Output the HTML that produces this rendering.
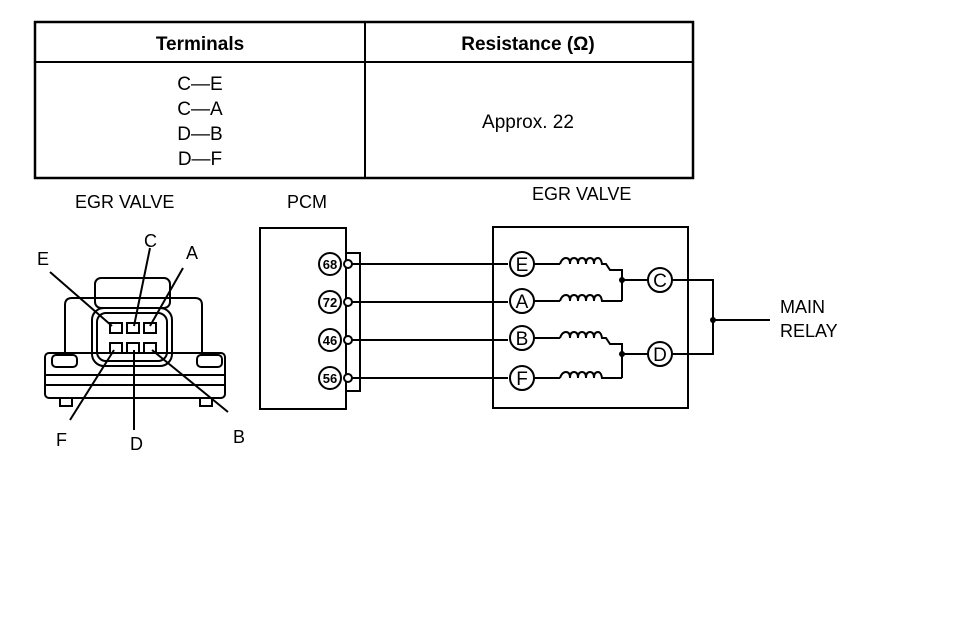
<!DOCTYPE html>
<html><head><style>body{margin:0;background:#fff}svg{display:block}text{font-family:"Liberation Sans",sans-serif;fill:#000}</style></head><body>
<svg width="960" height="632" viewBox="0 0 960 632" xmlns="http://www.w3.org/2000/svg">
<g stroke="#000" fill="none" stroke-width="2">
<rect x="35" y="22" width="658" height="156" stroke-width="2.5"/>
<line x1="35" y1="62" x2="693" y2="62"/>
<line x1="365" y1="22" x2="365" y2="178"/>
</g>
<g font-size="19" text-anchor="middle">
<text x="200" y="50" font-weight="bold">Terminals</text>
<text x="528" y="50" font-weight="bold">Resistance (Ω)</text>
<text x="200" y="90">C—E</text>
<text x="200" y="115">C—A</text>
<text x="200" y="140">D—B</text>
<text x="200" y="165">D—F</text>
<text x="528" y="128">Approx. 22</text>
</g>
<g font-size="18">
<text x="75" y="208">EGR VALVE</text>
<text x="287" y="208">PCM</text>
<text x="532" y="200">EGR VALVE</text>
<text x="780" y="313">MAIN</text>
<text x="780" y="337">RELAY</text>
<text x="144" y="247">C</text>
<text x="186" y="259">A</text>
<text x="37" y="265">E</text>
<text x="56" y="446">F</text>
<text x="130" y="450">D</text>
<text x="233" y="443">B</text>
</g>
<!-- connector drawing -->
<g stroke="#000" fill="none" stroke-width="2">
<rect x="95" y="278" width="75" height="30" rx="6"/>
<path d="M65 355 V305 Q65 298 72 298 H195 Q202 298 202 305 V355"/>
<rect x="45" y="353" width="180" height="45" rx="4"/>
<line x1="45" y1="385" x2="225" y2="385"/>
<line x1="45" y1="375" x2="225" y2="375"/>
<rect x="52" y="355" width="25" height="12" rx="4"/>
<rect x="197" y="355" width="25" height="12" rx="4"/>
<rect x="92" y="308" width="80" height="58" rx="12"/>
<rect x="97" y="313" width="70" height="48" rx="9"/>
<rect x="110" y="323" width="12" height="10"/><rect x="127" y="323" width="12" height="10"/><rect x="144" y="323" width="12" height="10"/>
<rect x="110" y="343" width="12" height="10"/><rect x="127" y="343" width="12" height="10"/><rect x="144" y="343" width="12" height="10"/>
<line x1="50" y1="272" x2="112" y2="326"/>
<line x1="150" y1="248" x2="134" y2="326"/>
<line x1="183" y1="268" x2="150" y2="326"/>
<line x1="70" y1="420" x2="114" y2="350"/>
<line x1="134" y1="430" x2="134" y2="350"/>
<line x1="228" y1="412" x2="152" y2="350"/>
<rect x="60" y="398" width="12" height="8"/><rect x="200" y="398" width="12" height="8"/>
</g>
<!-- PCM -->
<g stroke="#000" fill="none" stroke-width="2">
<rect x="260" y="228" width="86" height="181"/>
<path d="M346 253 H360 V391 H346"/>
<line x1="352" y1="264" x2="508" y2="264"/>
<line x1="352" y1="302" x2="508" y2="302"/>
<line x1="352" y1="340" x2="508" y2="340"/>
<line x1="352" y1="378" x2="508" y2="378"/>
<rect x="493" y="227" width="195" height="181"/>
</g>
<g stroke="#000" fill="#fff" stroke-width="2">
<circle cx="330" cy="264" r="11"/><circle cx="330" cy="302" r="11"/><circle cx="330" cy="340" r="11"/><circle cx="330" cy="378" r="11"/>
<circle cx="348" cy="264" r="4"/><circle cx="348" cy="302" r="4"/><circle cx="348" cy="340" r="4"/><circle cx="348" cy="378" r="4"/>
<circle cx="522" cy="264" r="12"/><circle cx="522" cy="301" r="12"/><circle cx="522" cy="338" r="12"/><circle cx="522" cy="378" r="12"/>
<circle cx="660" cy="280" r="12"/><circle cx="660" cy="354" r="12"/>
</g>
<g font-size="13" font-weight="bold" text-anchor="middle">
<text x="330" y="269">68</text><text x="330" y="307">72</text><text x="330" y="345">46</text><text x="330" y="383">56</text>
</g>
<g font-size="19" text-anchor="middle">
<text x="522" y="271">E</text><text x="522" y="308">A</text><text x="522" y="345">B</text><text x="522" y="385">F</text>
<text x="660" y="287">C</text><text x="660" y="361">D</text>
</g>
<g stroke="#000" fill="none" stroke-width="2">
<path d="M534 264 H560 M534 301 H560 M534 338 H560 M534 378 H560"/>
<path d="M560 264 q2-6 6-6 q4 0 4 6 q0-6 4-6 q4 0 4 6 q0-6 4-6 q4 0 4 6 q0-6 4-6 q4 0 4 6 q0-6 4-6 q3 0 4 6 H606 L610 270 H622 V301"/>
<path d="M560 301 q2-6 6-6 q4 0 4 6 q0-6 4-6 q4 0 4 6 q0-6 4-6 q4 0 4 6 q0-6 4-6 q4 0 4 6 q0-6 4-6 q3 0 4 6 H606 L610 301 H622"/>
<path d="M560 338 q2-6 6-6 q4 0 4 6 q0-6 4-6 q4 0 4 6 q0-6 4-6 q4 0 4 6 q0-6 4-6 q4 0 4 6 q0-6 4-6 q3 0 4 6 H606 L610 344 H622 V378"/>
<path d="M560 378 q2-6 6-6 q4 0 4 6 q0-6 4-6 q4 0 4 6 q0-6 4-6 q4 0 4 6 q0-6 4-6 q4 0 4 6 q0-6 4-6 q3 0 4 6 H606 L610 378 H622"/>
<path d="M622 280 H648 M622 354 H648"/>
<path d="M672 280 H713 V354 H672 M713 320 H770"/>
</g>
<g fill="#000"><circle cx="622" cy="280" r="3"/><circle cx="622" cy="354" r="3"/><circle cx="713" cy="320" r="3"/></g>
</svg>
</body></html>
